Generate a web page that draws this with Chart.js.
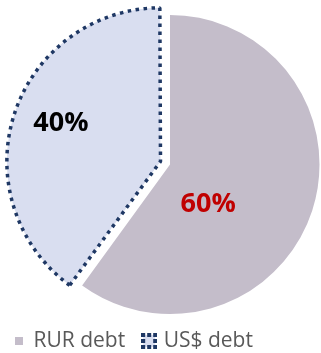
<!DOCTYPE html>
<html>
<head>
<meta charset="utf-8">
<script src="https://cdn.jsdelivr.net/npm/chart.js@4/dist/chart.umd.min.js"></script>
<style>
html,body{margin:0;padding:0;background:#fff;}
#wrap{width:321px;height:353px;position:relative;}
</style>
</head>
<body>
<div id="wrap"><canvas id="c"></canvas></div>
<script>
const categories = ["RUR debt", "US$ debt"];
const shares = [60, 40];
const labelTexts = ["60%", "40%"];
const fillColors = ["#C4BDCA", "#D9DEF0"];
const labelColors = ["#C00000", "#000000"];
const borderNavy = "#1F3864";

function makeBox(i) {
  const c = document.createElement('canvas');
  if (i === 0) {
    c.width = 8; c.height = 8;
    const g = c.getContext('2d');
    g.fillStyle = fillColors[0];
    g.fillRect(0, 0, 8, 8);
  } else {
    c.width = 16; c.height = 16;
    const g = c.getContext('2d');
    g.fillStyle = fillColors[1];
    g.fillRect(2, 2, 12, 12);
    g.fillStyle = borderNavy;
    const pts = [[0,0],[6,0],[12,0],[12,6],[12,12],[6,12],[0,12],[0,6]];
    pts.forEach(p => g.fillRect(p[0], p[1], 4, 4));
  }
  return c;
}

const labelPlugin = {
  id: 'sliceLabels',
  beforeDraw(chart) {
    const lg = chart.legend;
    if (lg) {
      const h = lg.bottom - lg.top;
      lg.left = -5;
      lg.top = 310.5;
      lg.bottom = lg.top + h;
    }
  },
  afterDatasetsDraw(chart) {
    const meta = chart.getDatasetMeta(0);
    const ctx = chart.ctx;
    const factors = [[0.255, 0.265], [-0.73, -0.275]];
    ctx.save();
    ctx.font = 'bold 27px "Open Sans"';
    ctx.textAlign = 'center';
    ctx.textBaseline = 'middle';
    meta.data.forEach((arc, i) => {
      const r = arc.outerRadius;
      ctx.fillStyle = labelColors[i];
      ctx.fillText(labelTexts[i], arc.x + factors[i][0] * r, arc.y + factors[i][1] * r);
    });
    ctx.restore();
  }
};

new Chart(document.getElementById('c'), {
  type: 'pie',
  data: {
    labels: categories,
    datasets: [{
      data: shares,
      backgroundColor: fillColors,
      borderColor: ['rgba(0,0,0,0)', borderNavy],
      borderWidth: [0, 3.5],
      borderDash: (ctx) => ctx.dataIndex === 1 ? [3.5, 4.5] : [],
      offset: [0, 40],
      radius: 149.5,
      clip: false
    }]
  },
  options: {
    responsive: true,
    maintainAspectRatio: false,
    animation: false,
    layout: { padding: { left: 19, right: 0, top: -1, bottom: -27 } },
    plugins: {
      tooltip: { enabled: false },
      legend: {
        position: 'bottom',
        align: 'start',
        labels: {
          font: { family: '"Open Sans"', size: 21 },
          color: '#595959',
          padding: 20,
          boxWidth: 8,
          boxHeight: 14,
          usePointStyle: true,
          generateLabels(chart) {
            return categories.map((t, i) => ({
              text: t,
              fillStyle: fillColors[i],
              strokeStyle: fillColors[i],
              lineWidth: 0,
              pointStyle: makeBox(i),
              hidden: false,
              index: i,
              fontColor: '#595959'
            }));
          }
        }
      }
    }
  },
  plugins: [labelPlugin]
});
</script>
</body>
</html>
